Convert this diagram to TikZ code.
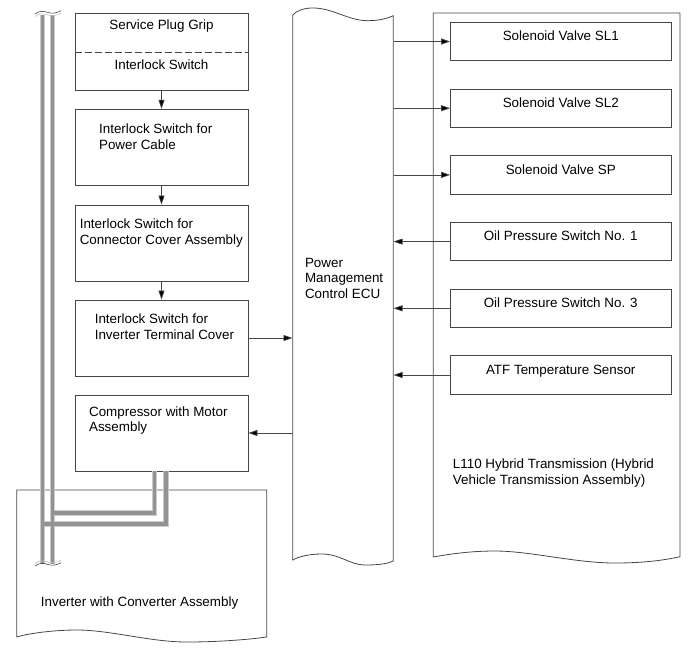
\documentclass[tikz,border=0pt]{standalone}
\usepackage{fontspec}
\setmainfont{Liberation Sans}
\usepackage{tikz}
\usetikzlibrary{arrows.meta, positioning}

\definecolor{wire}{RGB}{70,70,70}

\begin{document}
\begin{tikzpicture}[
    x=1pt, y=-1pt,
    every node/.style={font=\fontsize{13.4}{15.8}\selectfont},
    part/.style={
        rectangle, draw=wire, line width=0.8pt,
        minimum width=173pt, minimum height=76pt,
        inner sep=0pt
    },
    valve/.style={
        rectangle, draw=wire, line width=0.8pt,
        minimum width=220.5pt, inner xsep=0pt, inner ysep=4pt,
        text height=14.5pt, text depth=15.8pt
    },
    note/.style={inner sep=0pt, align=left, anchor=north west},
    arrow/.style={-{Triangle[length=9pt, width=6pt, fill=black]}, draw=wire, line width=0.7pt},
    outline/.style={draw=wire, line width=0.8pt},
    cable/.style={draw=gray!85, line width=3.6pt,
        preaction={draw=gray!40, line width=5.6pt}},
]
\useasboundingbox (0,0) rectangle (690,659);

% Interlock chain
\node[part, minimum height=77pt] (plug) at (161.5,51.5) {};
\node[part] (pcable) at (161.5,147.2) {};
\node[part] (ccover) at (161.5,243) {};
\node[part] (tcover) at (161.5,338) {};
\node[part] (comp)   at (161.5,433) {};

\draw[wire, line width=0.6pt, dash pattern=on 7pt off 3pt]
    (plug.west |- 0,52.3) -- (plug.east |- 0,52.3);

\node[inner sep=0pt, below=6.7pt of plug.north] (grip) {Service Plug Grip};
\node[inner sep=0pt, below=46.7pt of plug.north] (ilock) {Interlock Switch};
\node[note, below right=14.7pt and 24.3pt of pcable.north west] (pcabletxt)
    {Interlock Switch for\\Power Cable};
\node[note, below right=14pt and 5pt of ccover.north west] (ccovertxt)
    {Interlock Switch for\\Connector Cover Assembly};
\node[note, below right=14pt and 20pt of tcover.north west] (tcovertxt)
    {Interlock Switch for\\Inverter Terminal Cover};
\node[note, below right=11.5pt and 14.3pt of comp.north west] (comptxt)
    {Compressor with Motor\\Assembly};

\draw[arrow] (plug) -- (pcable);
\draw[arrow] (pcable) -- (ccover);
\draw[arrow] (ccover) -- (tcover);

% ECU
\node[minimum width=100.6pt, minimum height=545pt, inner sep=0pt] (ecu) at (343,287.5) {};
\draw[outline] (292.7,15) .. controls (297,10) and (305,8) .. (313,8)
    .. controls (333,8) and (348,20.7) .. (368,20.7)
    .. controls (380,20.7) and (388,18) .. (393.3,15.7) -- (393.3,561)
    .. controls (388,563.5) and (380,565) .. (365,565)
    .. controls (350,565) and (340,554) .. (322,554)
    .. controls (308,554) and (298,557) .. (292.7,560) -- cycle;
\node[note, below right=242.8pt and 12.3pt of ecu.north west] (ecutxt)
    {Power\\Management\\Control ECU};

\draw[arrow] (tcover) -- (tcover -| ecu.west);
\draw[arrow] (comp -| ecu.west) -- (comp);

% Transmission
\coordinate (trans) at (433.3,13);
\draw[outline] (433.3,557) -- (trans) -- (680,13) -- (680,556.7)
    .. controls (665,560) and (645,563) .. (615,563)
    .. controls (575,563) and (530,551) .. (495,551)
    .. controls (475,551) and (455,553) .. (433.3,557);
\node[note, below right=446pt and 19.4pt of trans] (transtxt)
    {L110 Hybrid Transmission (Hybrid\\Vehicle Transmission Assembly)};

\node[valve] (sl1)  at (560.75,41.5)  {Solenoid Valve SL1};
\node[valve] (sl2)  at (560.75,108.2) {Solenoid Valve SL2};
\node[valve] (sp)   at (560.75,174.9) {Solenoid Valve SP};
\node[valve] (ops1) at (560.75,241.6) {Oil Pressure Switch No. 1};
\node[valve] (ops3) at (560.75,308.3) {Oil Pressure Switch No. 3};
\node[valve] (atf)  at (560.75,375)   {ATF Temperature Sensor};

%% outputs
\draw[arrow] (ecu.east |- sl1) -- (sl1);
\draw[arrow] (ecu.east |- sl2) -- (sl2);
\draw[arrow] (ecu.east |- sp) -- (sp);
%% inputs
\draw[arrow] (ops1) -- (ops1 -| ecu.east);
\draw[arrow] (ops3) -- (ops3 -| ecu.east);
\draw[arrow] (atf) -- (atf -| ecu.east);

% Inverter
\coordinate (inv) at (16.7,490);
\draw[outline] (16.7,637) -- (inv) -- (266.7,490) -- (266.7,637)
    .. controls (245,640) and (215,642) .. (187,642)
    .. controls (150,642) and (110,630) .. (77,630)
    .. controls (55,630) and (30,633) .. (16.7,637);
\node[note, below right=106.7pt and 24pt of inv] (invtxt)
    {Inverter with Converter Assembly};

% Cables
\coordinate (topA) at (42.5,15);
\coordinate (botA) at (42.5,564);
\coordinate (topB) at (52.5,15);
\coordinate (botB) at (52.5,564);
\coordinate (tapA) at (42.5,524);
\coordinate (tapB) at (52.5,513);
\draw[cable] (topB) -- (botB)
    ([xshift=-7pt]comp.south) |- (tapB)
    (topA) -- (botA)
    ([xshift=4.5pt]comp.south) |- (tapA);

% break marks
\draw[wire, line width=0.6pt] (35,14) .. controls (39,10.5) and (44,11) .. (48,12.5)
    .. controls (52,14) and (57,13) .. (61,10.7);
\draw[gray!50, line width=0.6pt] (35,16.5) .. controls (39,13) and (44,13.5) .. (48,15)
    .. controls (52,16.5) and (57,15.5) .. (61,13.2);
\draw[gray!50, line width=0.6pt] (35,563.5) .. controls (39,560) and (44,560.5) .. (48,562)
    .. controls (52,563.5) and (57,562.5) .. (61,560.2);
\draw[wire, line width=0.6pt] (35,566) .. controls (39,562.5) and (44,563) .. (48,564.5)
    .. controls (52,566) and (57,565) .. (61,562.7);

\end{tikzpicture}
\end{document}
